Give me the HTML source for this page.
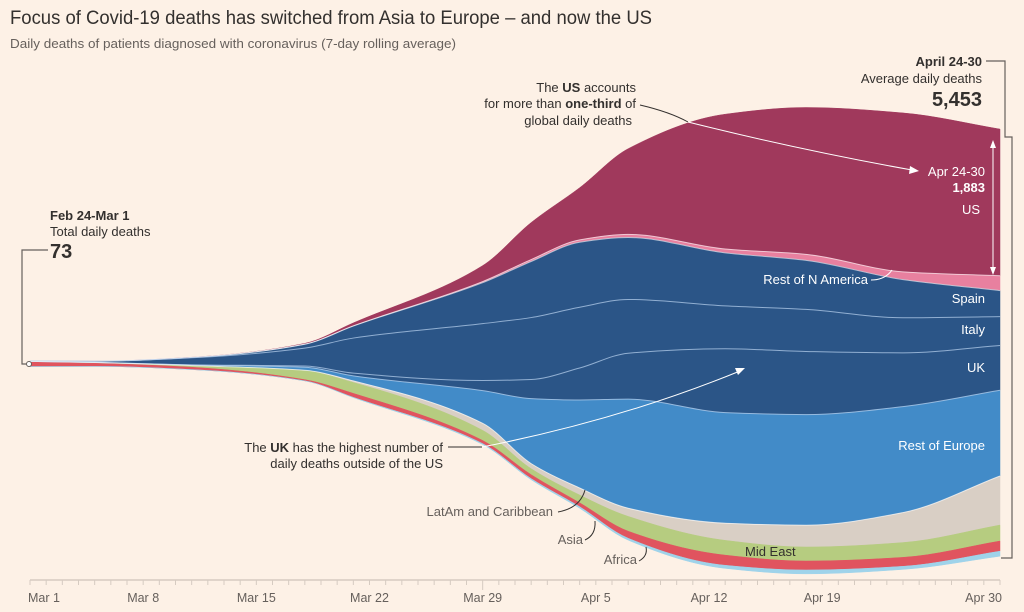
<!DOCTYPE html>
<html><head><meta charset="utf-8"><style>
html,body{margin:0;padding:0;background:#fdf1e6;}
svg{display:block;font-family:"Liberation Sans",sans-serif;}
</style></head><body>
<svg id="chart" width="1024" height="612" viewBox="0 0 1024 612">
<rect width="1024" height="612" fill="#fdf1e6"/>
<text x="10" y="24" font-size="19" fill="#33302e" textLength="642" lengthAdjust="spacingAndGlyphs">Focus of Covid-19 deaths has switched from Asia to Europe – and now the US</text>
<text x="10" y="48" font-size="13" fill="#66605c" textLength="446" lengthAdjust="spacingAndGlyphs">Daily deaths of patients diagnosed with coronavirus (7-day rolling average)</text>
<g id="areas"></g>
<g id="axis"></g>
<g id="annot">
 <path d="M48 250 H22 V364 H28" fill="none" stroke="#66605c" stroke-width="1.2"/>
 <circle cx="29" cy="364" r="2.5" fill="#fff" stroke="#66605c" stroke-width="1"/>
 <text x="50" y="220" font-size="13" font-weight="bold" fill="#33302e">Feb 24-Mar 1</text>
 <text x="50" y="236" font-size="13" fill="#33302e">Total daily deaths</text>
 <text x="50" y="258" font-size="20" font-weight="bold" fill="#33302e">73</text>
 <path d="M986 61 H1005 V137 H1012 V558 H1001" fill="none" stroke="#66605c" stroke-width="1.2"/>
 <text x="982" y="66" font-size="13" font-weight="bold" fill="#33302e" text-anchor="end">April 24-30</text>
 <text x="982" y="83" font-size="13" fill="#33302e" text-anchor="end">Average daily deaths</text>
 <text x="982" y="106" font-size="20" font-weight="bold" fill="#33302e" text-anchor="end">5,453</text>
 <path d="M993 143 V272" stroke="#fff" stroke-width="1"/>
 <path d="M990 148 L993 140 L996 148 Z M990 267 L993 275 L996 267 Z" fill="#fff"/>
 <text x="985" y="176" font-size="13" fill="#fff" text-anchor="end">Apr 24-30</text>
 <text x="985" y="192" font-size="13" font-weight="bold" fill="#fff" text-anchor="end">1,883</text>
 <text x="980" y="214" font-size="13" fill="#fff" text-anchor="end">US</text>
 <text x="868" y="284" font-size="13" fill="#fff" text-anchor="end">Rest of N America</text>
 <path d="M871 280 Q885 280 892 270" fill="none" stroke="#fff" stroke-width="1"/>
 <text x="985" y="303" font-size="13" fill="#fff" text-anchor="end">Spain</text>
 <text x="985" y="334" font-size="13" fill="#fff" text-anchor="end">Italy</text>
 <text x="985" y="372" font-size="13" fill="#fff" text-anchor="end">UK</text>
 <text x="985" y="450" font-size="13" fill="#fff" text-anchor="end">Rest of Europe</text>
 <text x="745" y="556" font-size="13" fill="#33302e">Mid East</text>
 <text x="553" y="516" font-size="13" fill="#66605c" text-anchor="end">LatAm and Caribbean</text>
 <path d="M558 512 Q580 508 585 490" fill="none" stroke="#33302e" stroke-width="1"/>
 <text x="583" y="544" font-size="13" fill="#66605c" text-anchor="end">Asia</text>
 <path d="M585 540 Q596 535 595 521" fill="none" stroke="#33302e" stroke-width="1"/>
 <text x="637" y="564" font-size="13" fill="#66605c" text-anchor="end">Africa</text>
 <path d="M639 561 Q648 556 646 547" fill="none" stroke="#33302e" stroke-width="1"/>
 <text x="636" y="92" font-size="13" fill="#33302e" text-anchor="end">The <tspan font-weight="bold">US</tspan> accounts</text>
 <text x="636" y="108" font-size="13" fill="#33302e" text-anchor="end">for more than <tspan font-weight="bold">one-third</tspan> of</text>
 <text x="632" y="125" font-size="13" fill="#33302e" text-anchor="end">global daily deaths</text>
 <path d="M640 105 Q670 112 688 122" fill="none" stroke="#33302e" stroke-width="1"/>
 <path d="M688 122 Q800 150 912 170" fill="none" stroke="#fff" stroke-width="1"/>
 <path d="M910 166 L919 171 L909 174 Z" fill="#fff"/>
 <text x="443" y="452" font-size="13" fill="#33302e" text-anchor="end">The <tspan font-weight="bold">UK</tspan> has the highest number of</text>
 <text x="443" y="468" font-size="13" fill="#33302e" text-anchor="end">daily deaths outside of the US</text>
 <path d="M448 447 H482" fill="none" stroke="#33302e" stroke-width="1"/>
 <path d="M482 447 Q620 420 740 371" fill="none" stroke="#fff" stroke-width="1"/>
 <path d="M735 368 L745 368 L738 375 Z" fill="#fff"/>
</g>
</svg>
<script>
const days = [0, 4, 10, 17, 20, 28, 31, 34, 37, 43, 48, 54, 60];
const seriesNames = ["US","Rest of N America","Spain","Italy","UK","Rest of Europe","LatAm and Caribbean","Mid East","Asia","Africa"];
const usVals      = [1, 2, 3, 10, 38, 205, 475, 670, 1100, 1730, 1885, 2040, 1883];
const restNAVals  = [0, 0, 0, 1, 3, 15, 25, 30, 40, 50, 77, 100, 190];
const spainVals   = [0, 0, 5, 50, 154, 525, 720, 835, 795, 680, 630, 490, 335];
const italyVals   = [5, 15, 90, 230, 450, 730, 795, 780, 690, 550, 540, 450, 370];
const ukVals      = [0, 0, 2, 15, 35, 130, 245, 410, 590, 820, 810, 690, 575];
const restEurVals = [1, 1, 8, 40, 65, 420, 835, 1130, 1400, 1420, 1420, 1360, 1100];
const latamVals   = [0, 0, 1, 5, 20, 90, 65, 90, 105, 220, 280, 385, 630];
const midEastVals = [6, 10, 20, 115, 140, 130, 77, 100, 190, 190, 180, 190, 205];
const asiaVals    = [60, 40, 30, 15, 50, 40, 50, 50, 90, 130, 115, 115, 130];
const africaVals  = [0, 0, 0, 1, 5, 12, 15, 20, 25, 40, 50, 40, 65];
const xTickLabels = ["Mar 1","Mar 8","Mar 15","Mar 22","Mar 29","Apr 5","Apr 12","Apr 19","Apr 30"];
const xTickDays   = [0, 7, 14, 21, 28, 35, 42, 49, 60];

const seriesVals = [usVals, restNAVals, spainVals, italyVals, ukVals, restEurVals, latamVals, midEastVals, asiaVals, africaVals];
const colors = ["#a0395c","#e8809f","#2b5587","#2b5587","#2b5587","#428bc8","#d9cfc5","#b6cc80","#e0545f","#9fd3ea"];
const keys = ["us","rest-n-america","spain","italy","uk","rest-of-europe","latam","mid-east","asia","africa"];
const NS = "http://www.w3.org/2000/svg";
const x0 = 30, x1 = 1000, dMax = 60;
function xScale(d){ return x0 + (x1 - x0) * d / dMax; }
const pxPerDeath = 0.0779;
function hScale(v){ return v * pxPerDeath; }
const centerY = 364;

// stacked boundaries
const n = days.length;
const bounds = []; // bounds[s] = {top:[], bot:[]}
for (let i = 0; i < n; i++) {
  let total = 0;
  seriesVals.forEach(a => total += a[i]);
  const H = hScale(total);
  let y = centerY - 0.05 * H - H / 2;
  seriesVals.forEach((a, s) => {
    if (!bounds[s]) bounds[s] = {top: [], bot: []};
    bounds[s].top.push(y);
    y += hScale(a[i]);
    bounds[s].bot.push(y);
  });
}

function monotone(xs, ys) {
  const m = xs.length, dx = [], sl = [], t = [];
  for (let i = 0; i < m - 1; i++) { dx[i] = xs[i+1]-xs[i]; sl[i] = (ys[i+1]-ys[i])/dx[i]; }
  t[0] = sl[0]; t[m-1] = sl[m-2];
  for (let i = 1; i < m - 1; i++) {
    if (sl[i-1]*sl[i] <= 0) t[i] = 0;
    else { const w1 = 2*dx[i]+dx[i-1], w2 = dx[i]+2*dx[i-1]; t[i] = (w1+w2)/(w1/sl[i-1]+w2/sl[i]); }
  }
  return t;
}
function curve(xs, ys, move) {
  const t = monotone(xs, ys);
  let d = (move ? "M" : "L") + xs[0].toFixed(2) + " " + ys[0].toFixed(2);
  for (let i = 0; i < xs.length - 1; i++) {
    const h = (xs[i+1]-xs[i]) / 3;
    d += " C" + (xs[i]+h).toFixed(2) + " " + (ys[i]+t[i]*h).toFixed(2) + " " +
         (xs[i+1]-h).toFixed(2) + " " + (ys[i+1]-t[i+1]*h).toFixed(2) + " " +
         xs[i+1].toFixed(2) + " " + ys[i+1].toFixed(2);
  }
  return d;
}
const xs = days.map(xScale);
const xsR = xs.slice().reverse();
const areas = document.getElementById("areas");
bounds.forEach((b, s) => {
  const p = document.createElementNS(NS, "path");
  const d = curve(xs, b.top, true) + " " + curve(xsR, b.bot.slice().reverse(), false) + " Z";
  p.setAttribute("d", d);
  p.setAttribute("fill", colors[s]);
  p.setAttribute("stroke", colors[s]);
  p.setAttribute("stroke-width", "0.5");
  
  
  areas.appendChild(p);
});
// separator lines
[1, 2, 3, 4, 5, 6].forEach(s => {
  const l = document.createElementNS(NS, "path");
  l.setAttribute("d", curve(xs, bounds[s].top, true));
  l.setAttribute("fill", "none");
  l.setAttribute("stroke", s >= 3 && s <= 5 ? "rgba(180,205,235,0.75)" : "rgba(255,255,255,0.6)");
  l.setAttribute("stroke-width", "1");
  
  
  areas.appendChild(l);
});

// axis
const axis = document.getElementById("axis");
const base = document.createElementNS(NS, "line");
base.setAttribute("x1", x0); base.setAttribute("x2", x1);
base.setAttribute("y1", 580); base.setAttribute("y2", 580);
base.setAttribute("stroke", "#d6cbc1"); base.setAttribute("stroke-width", "1.5");


axis.appendChild(base);
for (let d = 0; d <= dMax; d++) {
  const t = document.createElementNS(NS, "line");
  const x = xScale(d);
  t.setAttribute("x1", x); t.setAttribute("x2", x);
  t.setAttribute("y1", 580); t.setAttribute("y2", d === 28 ? 590 : 585);
  t.setAttribute("stroke", "#d6cbc1"); t.setAttribute("stroke-width", "1");
  
  
  axis.appendChild(t);
}
xTickLabels.forEach((lab, i) => {
  const t = document.createElementNS(NS, "text");
  const d = xTickDays[i];
  t.setAttribute("x", d === 0 ? x0 - 2 : (d === dMax ? x1 + 2 : xScale(d)));
  t.setAttribute("y", 602);
  t.setAttribute("font-size", "12.5");
  t.setAttribute("fill", "#66605c");
  t.setAttribute("text-anchor", d === 0 ? "start" : (d === dMax ? "end" : "middle"));
  t.textContent = lab;
  
  
  axis.appendChild(t);
});
</script>
</body></html>
